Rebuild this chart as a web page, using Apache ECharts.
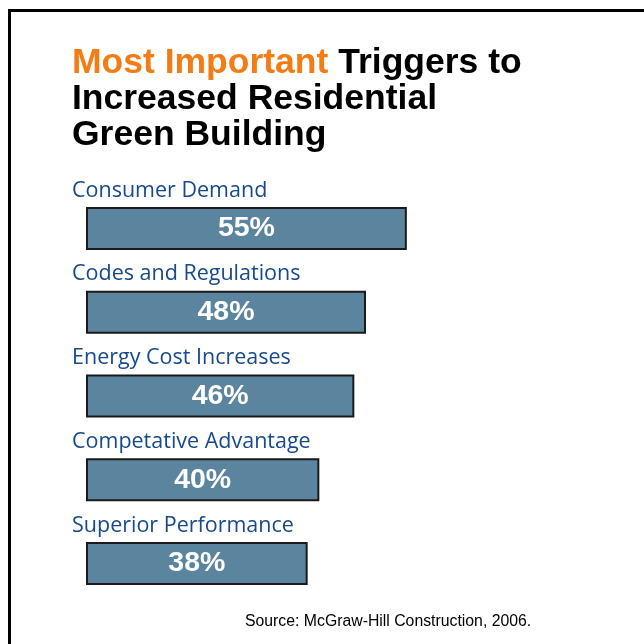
<!DOCTYPE html>
<html>
<head>
<meta charset="utf-8">
<script src="https://cdn.jsdelivr.net/npm/echarts@6/dist/echarts.min.js"></script>
<style>html,body{margin:0;padding:0;background:#fff}#c{width:644px;height:644px}</style>
</head>
<body>
<div id="c"></div>
<script>
var categories = ['Consumer Demand', 'Codes and Regulations', 'Energy Cost Increases', 'Competative Advantage', 'Superior Performance'];
var values = [55, 48, 46, 40, 38];
var titleHighlight = 'Most Important';
var titleRest = ' Triggers to\nIncreased Residential\nGreen Building';
var sourceText = 'Source: McGraw-Hill Construction, 2006.';

var labelPoints = categories.map(function (c) { return { name: c, value: [0, c] }; });

var chart = echarts.init(document.getElementById('c'), null, {renderer: 'canvas'});
chart.setOption({
  animation: false,
  backgroundColor: '#ffffff',
  title: {
    left: 72, top: 45, padding: 0,
    text: '{o|' + titleHighlight + '}' + titleRest,
    textStyle: {
      fontFamily: 'Liberation Sans, Arial, sans-serif',
      fontWeight: 'bold', fontSize: 35.5, lineHeight: 36, color: '#000',
      rich: { o: { color: '#f47c14', fontFamily: 'Liberation Sans, Arial, sans-serif', fontWeight: 'bold', fontSize: 35.5, lineHeight: 36 } }
    }
  },
  grid: { left: 86, width: 350, top: 186.5, height: 419 },
  xAxis: { type: 'value', min: 0, max: 60, show: false },
  yAxis: {
    type: 'category', data: categories, inverse: true,
    axisLine: { show: false }, axisTick: { show: false }, splitLine: { show: false },
    axisLabel: { show: false }
  },
  series: [{
    type: 'bar', data: values, barWidth: 43,
    itemStyle: { color: '#5b859f', borderColor: '#1a1a1a', borderWidth: 2 },
    label: {
      show: true, position: 'inside', formatter: '{c}%',
      color: '#fff', fontSize: 28.5, fontWeight: 'bold',
      fontFamily: 'Liberation Sans, Arial, sans-serif'
    }
  }, {
    type: 'scatter', data: labelPoints, symbolSize: 0, silent: true,
    itemStyle: { opacity: 1 },
    label: {
      show: true, position: 'inside', formatter: '{b}',
      align: 'left', verticalAlign: 'middle', offset: [-14, -38],
      color: '#164a8c', fontSize: 21.5,
      fontFamily: 'Open Sans, Noto Sans, sans-serif'
    }
  }],
  graphic: [
    { type: 'polyline', shape: { points: [[9.5, 644], [9.5, 10.5], [644, 10.5]] }, style: { stroke: '#000', lineWidth: 3, fill: null } },
    { type: 'text', left: 245, top: 614, style: { text: sourceText, fill: '#000', fontSize: 15.8, fontFamily: 'Liberation Sans, Arial, sans-serif' } }
  ]
});
</script>
</body>
</html>
